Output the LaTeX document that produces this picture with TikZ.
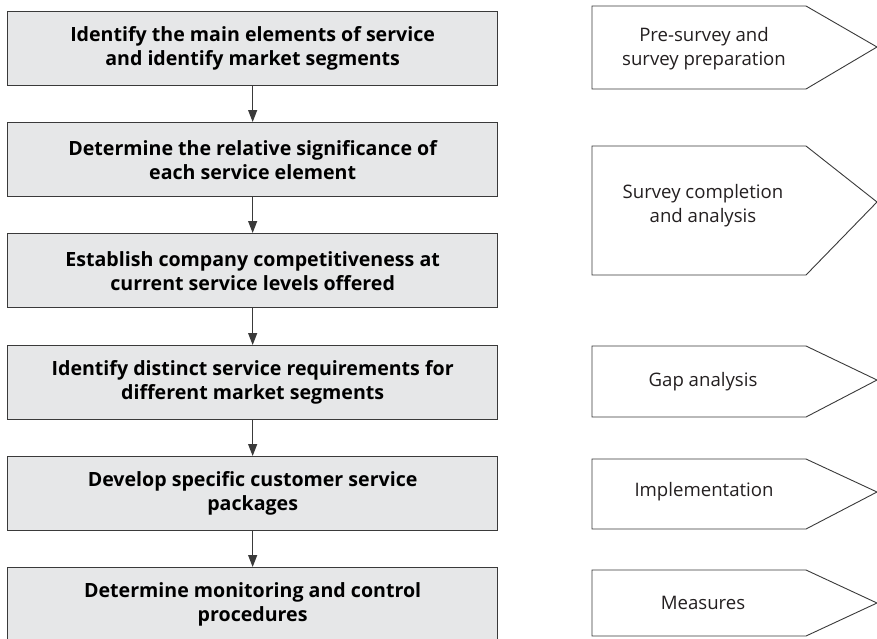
\documentclass[tikz,border=0pt]{standalone}
\usepackage{fontspec}
\setmainfont{Open Sans}
\usetikzlibrary{arrows.meta}
\definecolor{boxfill}{HTML}{E6E7E8}
\definecolor{edge}{HTML}{3A3A3A}
\definecolor{txt}{HTML}{231F20}
\begin{document}
\begin{tikzpicture}[x=1pt,y=-1pt,
  stepbox/.style={draw=edge, line width=1.3pt, fill=boxfill, minimum width=490pt, minimum height=74pt,
    inner sep=0pt, align=center, font=\fontsize{19.6}{24}\selectfont\bfseries, text=black, anchor=north west},
  flow/.style={draw=edge, line width=1.2pt, -{Triangle[length=12pt,width=9pt]}},
  phase/.style={draw=edge, line width=0.9pt, fill=white, line join=miter},
  phaselabel/.style={align=center, font=\fontsize{18.6}{24}\selectfont, text=txt}]
\useasboundingbox (0,0) rectangle (877,638);
% left process boxes
\node[stepbox] (s1) at (7,11) {Identify the main elements of service\\and identify market segments};
\node[stepbox] (s2) at (7,122) {Determine the relative significance of\\each service element};
\node[stepbox] (s3) at (7,233) {Establish company competitiveness at\\current service levels offered};
\node[stepbox] (s4) at (7,345) {Identify distinct service requirements for\\different market segments};
\node[stepbox] (s5) at (7,456) {Develop specific customer service\\packages};
\node[stepbox] (s6) at (7,567) {Determine monitoring and control\\procedures};
\draw[flow] (s1.south) -- (s2.north);
\draw[flow] (s2.south) -- (s3.north);
\draw[flow] (s3.south) -- (s4.north);
\draw[flow] (s4.south) -- (s5.north);
\draw[flow] (s5.south) -- (s6.north);
% right phase arrows
\draw[phase] (592,6) -- (806,6) -- (877,47) -- (806,89) -- (592,89) -- cycle;
\draw[phase] (592,146) -- (806,146) -- (877,202) -- (806,275) -- (592,275) -- cycle;
\draw[phase] (592,346) -- (806,346) -- (877,380) -- (806,417) -- (592,417) -- cycle;
\draw[phase] (592,459) -- (806,459) -- (877,492) -- (806,529) -- (592,529) -- cycle;
\draw[phase] (592,570) -- (806,570) -- (877,603) -- (806,636) -- (592,636) -- cycle;
\node[phaselabel] (p1) at (704,49) {Pre-survey and\\survey preparation};
\node[phaselabel] (p2) at (703,206) {Survey completion\\and analysis};
\node[phaselabel] (p3) at (703,382) {Gap analysis};
\node[phaselabel] (p4) at (704,492) {Implementation};
\node[phaselabel] (p5) at (703,603) {Measures};
\end{tikzpicture}
\end{document}
